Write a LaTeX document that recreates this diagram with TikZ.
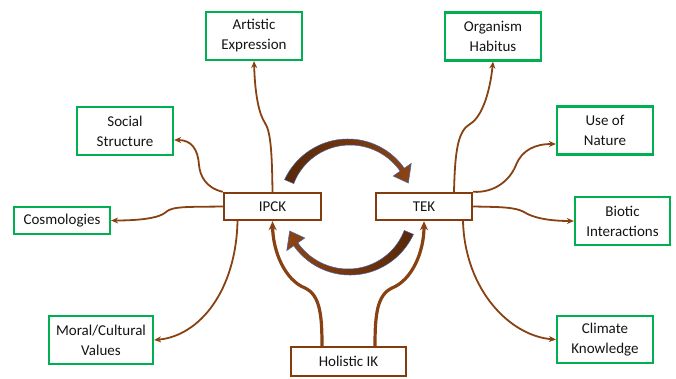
\documentclass[tikz,border=0pt]{standalone}
\usepackage{fontspec}
\setmainfont{Carlito}
\usetikzlibrary{arrows.meta,calc}
\definecolor{gboxc}{RGB}{0,176,80}
\definecolor{bboxc}{RGB}{132,60,12}
\definecolor{linkc}{RGB}{135,65,18}
\definecolor{arcdark}{RGB}{88,40,8}
\definecolor{arclight}{RGB}{140,68,20}
\definecolor{arcedgec}{RGB}{70,100,170}
\begin{document}
\begin{tikzpicture}[x=1pt,y=-1pt,font=\fontsize{15}{20}\selectfont,
  gbx/.style={draw=gboxc,line width=2.2pt,minimum width=96pt,minimum height=48pt,align=center,inner sep=1pt,text=black!92},
  bbx/.style={draw=bboxc,line width=2.4pt,minimum height=27pt,align=center,inner sep=1pt,text=black!92},
  link/.style={draw=linkc,line width=1.8pt,-{Stealth[length=7pt,width=6pt]}},
  thicklink/.style={draw=linkc,line width=3.2pt,-{Stealth[length=9pt,width=8pt]}}]
\useasboundingbox (0,0) rectangle (676,378);
% green boxes
\node[gbx] (art) at (254,36) {Artistic\\Expression};
\node[gbx] (soc) at (125,131) {Social\\Structure};
\node[gbx] (org) at (493,36.5) {Organism\\Habitus};
\node[gbx] (use) at (605,130.5) {Use of\\Nature};
\node[gbx,minimum height=27pt] (cos) at (62,220.5) {Cosmologies};
\node[gbx,minimum width=104pt] (mor) at (101,340) {Moral/Cultural\\Values};
\node[gbx,minimum width=95pt] (bio) at (622.5,221) {Biotic\\Interactions};
\node[gbx,minimum height=47pt] (cli) at (605,339.5) {Climate\\Knowledge};
% brown boxes
\node[bbx,minimum width=97pt] (ipck) at (272.5,206.5) {IPCK};
\node[bbx,minimum width=96pt] (tek) at (424,206.5) {TEK};
\node[bbx,minimum width=115pt,minimum height=29pt] (hol) at (348.5,361.5) {Holistic IK};
% connectors from IPCK
\draw[link] (ipck.north) .. controls (272,155) and (271,132) .. (265,123)
  .. controls (259,114) and (255,95) .. (art.south);
\draw[link] (ipck.north west) .. controls (206,188) and (200,176) .. (199,165)
  .. controls (198,150) and (192,140) .. ($(soc.east)+(0,9)$);
\draw[link] (ipck.west) .. controls (190,207) and (172,206) .. (166,212)
  .. controls (160,218) and (140,220.5) .. (cos.east);
\draw[link] ($(ipck.south)+(-35,0)$) .. controls (236,290) and (200,336) .. (mor.east);
% connectors from TEK
\draw[link] ($(tek.north)+(30,0)$) .. controls (455,150) and (458,131) .. (470,124)
  .. controls (482,117) and (490,92) .. (org.south);
\draw[link] (tek.north east) .. controls (495,193) and (510,180) .. (516,165)
  .. controls (522,150) and (535,144) .. ($(use.west)+(0,13.5)$);
\draw[link] (tek.east) .. controls (500,207) and (515,207) .. (524,212)
  .. controls (533,218) and (550,221) .. (bio.west);
\draw[link] ($(tek.south)+(39,0)$) .. controls (465,290) and (510,336) .. (cli.west);
% connectors from Holistic IK
\draw[thicklink] ($(hol.north)+(-26.5,0)$) .. controls (322,315) and (320,295) .. (305,288)
  .. controls (285,280) and (273,252) .. (ipck.south);
\draw[thicklink] ($(hol.north)+(26.5,0)$) .. controls (375,315) and (377,295) .. (392,288)
  .. controls (412,280) and (424,252) .. (tek.south);
% circular arrows
\foreach \rot/\lc/\rc in {0/arcdark/arclight,180/arclight/arcdark}{
\begin{scope}[rotate around={\rot:(349,207)}]
\shadedraw[left color=\lc,right color=\rc,draw=arcedgec,line width=0.5pt]
  plot[domain=157:35,samples=40,variable=\t]
    ({349+(67.5+2.5*((\t-35)/122)^2)*cos(\t)},{207-(67.5+2.5*((\t-35)/122)^2)*sin(\t)})
  -- ({349+76*cos(35)},{207-76*sin(35)})
  -- ({349+64*cos(22)},{207-64*sin(22)})
  -- ({349+54*cos(35)},{207-54*sin(35)})
  -- plot[domain=35:157,samples=40,variable=\t]
    ({349+(62.5-2.5*((\t-35)/122)^2)*cos(\t)},{207-(62.5-2.5*((\t-35)/122)^2)*sin(\t)})
  -- cycle;
\end{scope}}
\end{tikzpicture}
\end{document}
